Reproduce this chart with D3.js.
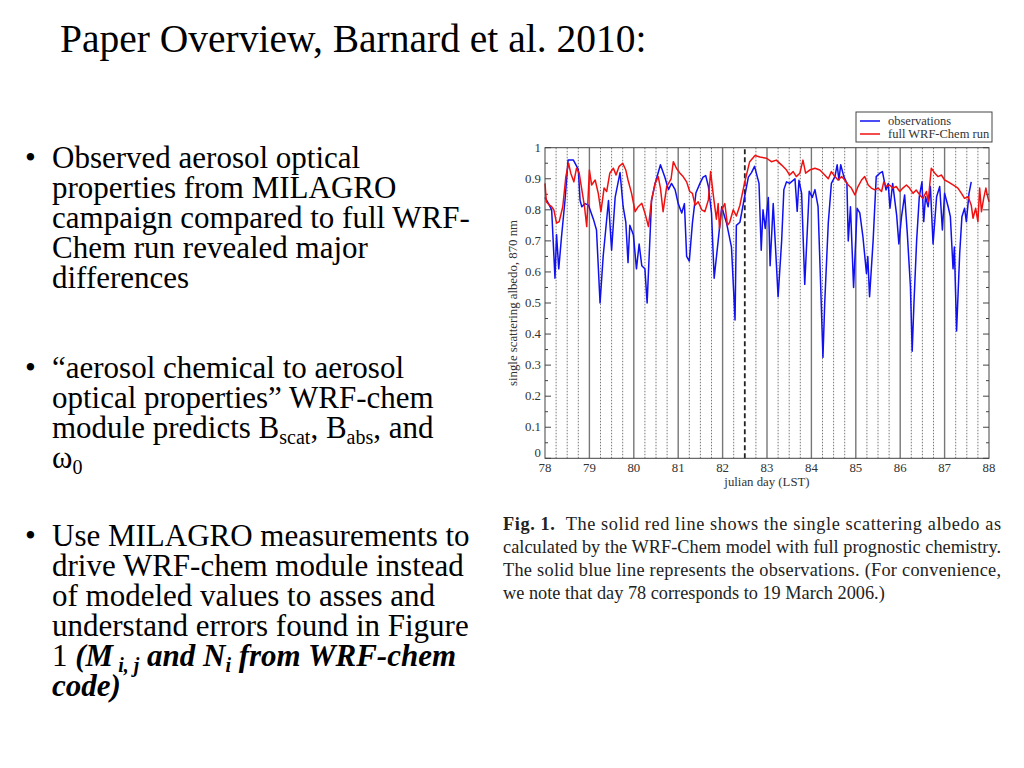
<!DOCTYPE html>
<html>
<head>
<meta charset="utf-8">
<script src="https://cdn.jsdelivr.net/npm/d3@7"></script>
<style>
  body { margin: 0; background: #fff; }
  svg { display: block; }
  .serif { font-family: "Liberation Serif", "Times New Roman", serif; }
</style>
</head>
<body>
<svg id="slide" width="1024" height="768"></svg>
<script>
// observed single scattering albedo (day, value)
let observations = [
  [78.00,0.84],[78.08,0.82],[78.15,0.80],[78.225,0.58],[78.26,0.72],[78.31,0.61],[78.37,0.71],[78.45,0.83],
  [78.52,0.96],[78.64,0.96],[78.75,0.93],[78.79,0.83],[78.83,0.81],[78.90,0.82],[78.98,0.815],[79.09,0.77],
  [79.16,0.735],[79.24,0.50],[79.31,0.65],[79.43,0.83],[79.50,0.67],[79.58,0.84],[79.69,0.92],[79.76,0.81],
  [79.82,0.76],[79.87,0.63],[79.91,0.75],[79.99,0.72],[80.06,0.61],[80.12,0.69],[80.18,0.62],[80.25,0.61],
  [80.30,0.50],[80.40,0.83],[80.48,0.885],[80.60,0.945],[80.70,0.905],[80.78,0.865],[80.85,0.885],[80.93,0.865],
  [81.00,0.82],[81.08,0.79],[81.14,0.82],[81.19,0.65],[81.25,0.635],[81.32,0.757],[81.40,0.855],[81.49,0.885],
  [81.56,0.905],[81.62,0.91],[81.68,0.875],[81.75,0.79],[81.81,0.58],[81.90,0.70],[81.98,0.81],[82.09,0.757],
  [82.20,0.68],[82.28,0.445],[82.31,0.75],[82.39,0.76],[82.48,0.83],[82.58,0.905],[82.65,0.92],[82.72,0.94],
  [82.82,0.885],[82.87,0.67],[82.91,0.80],[82.96,0.74],[83.03,0.84],[83.07,0.62],[83.14,0.82],[83.25,0.52],
  [83.33,0.70],[83.38,0.865],[83.44,0.89],[83.51,0.885],[83.63,0.90],[83.68,0.795],[83.72,0.895],[83.78,0.853],
  [83.85,0.56],[83.95,0.86],[84.02,0.84],[84.08,0.865],[84.15,0.81],[84.20,0.595],[84.26,0.325],[84.30,0.50],
  [84.38,0.757],[84.45,0.885],[84.53,0.907],[84.58,0.945],[84.62,0.896],[84.66,0.945],[84.73,0.907],[84.80,0.885],
  [84.83,0.70],[84.88,0.81],[84.95,0.55],[85.03,0.805],[85.09,0.79],[85.16,0.714],[85.24,0.595],[85.27,0.65],
  [85.31,0.52],[85.39,0.70],[85.46,0.907],[85.54,0.918],[85.60,0.923],[85.68,0.864],[85.73,0.885],[85.77,0.805],
  [85.83,0.885],[85.92,0.783],[85.97,0.69],[86.03,0.778],[86.10,0.848],[86.16,0.724],[86.23,0.553],[86.27,0.345],
  [86.31,0.50],[86.37,0.70],[86.43,0.842],[86.49,0.89],[86.53,0.762],[86.57,0.842],[86.63,0.81],[86.68,0.875],
  [86.74,0.69],[86.82,0.842],[86.89,0.875],[86.95,0.735],[87.00,0.853],[87.08,0.81],[87.13,0.778],[87.19,0.61],
  [87.22,0.68],[87.27,0.41],[87.34,0.66],[87.39,0.778],[87.45,0.805],[87.49,0.762],[87.55,0.853],[87.60,0.89]
];

// full WRF-Chem run (day, value)
let wrfChem = [
  [78.00,0.885],[78.03,0.826],[78.10,0.815],[78.15,0.81],[78.20,0.80],[78.26,0.757],[78.32,0.762],[78.40,0.81],
  [78.47,0.907],[78.53,0.95],[78.58,0.918],[78.65,0.89],[78.71,0.934],[78.77,0.918],[78.83,0.864],[78.89,0.81],
  [78.94,0.746],[79.00,0.928],[79.05,0.88],[79.13,0.896],[79.20,0.853],[79.26,0.794],[79.33,0.87],[79.39,0.859],
  [79.46,0.918],[79.54,0.934],[79.60,0.912],[79.67,0.94],[79.75,0.95],[79.82,0.928],[79.87,0.896],[79.95,0.853],
  [80.03,0.794],[80.10,0.81],[80.18,0.821],[80.25,0.79],[80.33,0.746],[80.40,0.832],[80.48,0.885],[80.55,0.907],
  [80.60,0.87],[80.66,0.794],[80.74,0.875],[80.84,0.90],[80.89,0.955],[80.96,0.934],[81.04,0.918],[81.11,0.907],
  [81.19,0.89],[81.26,0.859],[81.32,0.853],[81.38,0.815],[81.45,0.826],[81.53,0.80],[81.60,0.794],[81.68,0.832],
  [81.73,0.923],[81.79,0.848],[81.86,0.77],[81.90,0.82],[81.93,0.74],[81.98,0.80],[82.05,0.82],[82.11,0.75],
  [82.16,0.76],[82.24,0.80],[82.31,0.78],[82.39,0.815],[82.50,0.89],[82.61,0.955],[82.73,0.975],[82.84,0.97],
  [82.99,0.966],[83.10,0.955],[83.21,0.96],[83.33,0.944],[83.44,0.928],[83.51,0.912],[83.59,0.923],[83.66,0.907],
  [83.74,0.918],[83.81,0.96],[83.87,0.918],[83.96,0.928],[84.08,0.934],[84.19,0.928],[84.30,0.912],[84.38,0.90],
  [84.45,0.923],[84.53,0.907],[84.60,0.896],[84.68,0.907],[84.75,0.896],[84.83,0.88],[84.90,0.87],[84.98,0.848],
  [85.05,0.875],[85.13,0.896],[85.20,0.907],[85.28,0.88],[85.35,0.87],[85.43,0.864],[85.50,0.87],[85.58,0.859],
  [85.63,0.89],[85.69,0.875],[85.76,0.88],[85.84,0.87],[85.91,0.875],[85.99,0.859],[86.06,0.87],[86.14,0.88],
  [86.21,0.87],[86.29,0.853],[86.36,0.864],[86.44,0.848],[86.51,0.837],[86.59,0.859],[86.63,0.826],[86.70,0.934],
  [86.78,0.918],[86.85,0.907],[86.93,0.912],[87.00,0.896],[87.08,0.89],[87.19,0.88],[87.30,0.87],[87.38,0.853],
  [87.45,0.837],[87.53,0.842],[87.60,0.815],[87.64,0.773],[87.70,0.805],[87.75,0.762],[87.79,0.87],[87.83,0.794],
  [87.88,0.837],[87.93,0.87],[87.96,0.848],[88.00,0.826]
];

let xTicks = [78, 79, 80, 81, 82, 83, 84, 85, 86, 87, 88];
let yTicks = [0, 0.1, 0.2, 0.3, 0.4, 0.5, 0.6, 0.7, 0.8, 0.9, 1];
let legendLabels = ["observations", "full WRF-Chem run"];
let seriesColors = ["#1010f0", "#f01010"];

const svg = d3.select("#slide");
svg.append("rect").attr("width", 1024).attr("height", 768).attr("fill", "#fff");

// ---- slide text ----
svg.append("text").attr("class", "serif")
  .attr("x", 60).attr("y", 52).attr("font-size", 39.5).text("Paper Overview, Barnard et al. 2010:");

let bullets = [
  { y: 168, lines: ["Observed aerosol optical", "properties from MILAGRO", "campaign compared to full WRF-", "Chem run revealed major", "differences"] },
  { y: 378, lines: ["\u201caerosol chemical to aerosol", "optical properties\u201d WRF-chem", null, null] },
  { y: 546, lines: ["Use MILAGRO measurements to", "drive WRF-chem module instead", "of modeled values to asses and", "understand errors found in Figure", null, null] }
];
const lh = 30;
const fs = 31;
const sub = 20;
bullets.forEach(b => {
  svg.append("text").attr("class", "serif").attr("x", 25).attr("y", b.y).attr("font-size", fs).text("\u2022");
  b.lines.forEach((l, i) => {
    if (l) svg.append("text").attr("class", "serif").attr("x", 52).attr("y", b.y + i * lh).attr("font-size", fs).text(l);
  });
});
// lines with subscripts
let t = svg.append("text").attr("class", "serif").attr("x", 52).attr("y", 378 + 2 * lh).attr("font-size", fs);
t.append("tspan").text("module predicts B");
t.append("tspan").attr("font-size", sub).attr("dy", 6).text("scat");
t.append("tspan").attr("dy", -6).text(", B");
t.append("tspan").attr("font-size", sub).attr("dy", 6).text("abs");
t.append("tspan").attr("dy", -6).text(", and");
t = svg.append("text").attr("class", "serif").attr("x", 52).attr("y", 378 + 3 * lh).attr("font-size", fs);
t.append("tspan").text("\u03c9");
t.append("tspan").attr("font-size", sub).attr("dy", 6).text("0");

t = svg.append("text").attr("class", "serif").attr("x", 52).attr("y", 546 + 4 * lh).attr("font-size", fs);
t.append("tspan").text("1 ");
let bi = (txt) => t.append("tspan").attr("font-weight", "bold").attr("font-style", "italic").text(txt);
bi("(M");
bi(" i, j").attr("font-size", sub).attr("dy", 6);
bi(" and N").attr("dy", -6);
bi("i").attr("font-size", sub).attr("dy", 6);
bi(" from WRF-chem").attr("dy", -6);
svg.append("text").attr("class", "serif").attr("x", 52).attr("y", 546 + 5 * lh).attr("font-size", fs)
  .attr("font-weight", "bold").attr("font-style", "italic").text("code)");

// ---- caption ----
let caption = [
  "The solid red line shows the single scattering albedo as",
  "calculated by the WRF-Chem model with full prognostic chemistry.",
  "The solid blue line represents the observations.  (For convenience,",
  "we note that day 78 corresponds to 19 March 2006.)"
];
caption.forEach((c, i) => {
  let ct = svg.append("text").attr("class", "serif").attr("x", 503).attr("y", 530 + i * 23)
    .attr("font-size", 18.3).attr("fill", "#222");
  if (i === 0) {
    ct.append("tspan").attr("font-weight", "bold").text("Fig. 1.");
    ct.append("tspan").text("\u00a0\u00a0" + c);
  } else {
    ct.text(c);
  }
  if (i < 3) ct.attr("textLength", 498).attr("lengthAdjust", "spacing");
});

// ---- chart ----
const plot = { left: 545, right: 989, top: 147.7, bottom: 458.3 };
const x = d3.scaleLinear().domain([78, 88]).range([plot.left, plot.right]);
const y = d3.scaleLinear().domain([0, 1]).range([plot.bottom, plot.top]);
const g = svg.append("g");

// day / quarter-day guide lines
let quarters = d3.range(78.25, 88, 0.25).filter(d => Math.abs(d - Math.round(d)) > 0.01);
g.selectAll(".q").data(quarters.filter(d => Math.abs(d - 82.5) > 0.01)).enter().append("line")
  .attr("x1", d => x(d)).attr("x2", d => x(d)).attr("y1", y(0)).attr("y2", y(1))
  .attr("stroke", "#555").attr("stroke-width", 0.8).attr("stroke-dasharray", "1.5,1.5");
g.selectAll(".dl").data(xTicks.slice(1, -1)).enter().append("line")
  .attr("x1", d => x(d)).attr("x2", d => x(d)).attr("y1", y(0)).attr("y2", y(1))
  .attr("stroke", "#777").attr("stroke-width", 1.4);
g.append("line").attr("x1", x(82.5)).attr("x2", x(82.5)).attr("y1", y(0)).attr("y2", y(1))
  .attr("stroke", "#222").attr("stroke-width", 1.8).attr("stroke-dasharray", "5,3");

// y ticks (major + minor, inward, both sides)
let minor = d3.range(0.05, 1, 0.1);
[[yTicks, 6], [minor, 3]].forEach(([vals, len]) => {
  g.selectAll(null).data(vals).enter().append("line")
    .attr("x1", plot.left).attr("x2", plot.left + len).attr("y1", d => y(d)).attr("y2", d => y(d))
    .attr("stroke", "#444").attr("stroke-width", 1);
  g.selectAll(null).data(vals).enter().append("line")
    .attr("x1", plot.right).attr("x2", plot.right - len).attr("y1", d => y(d)).attr("y2", d => y(d))
    .attr("stroke", "#444").attr("stroke-width", 1);
});

// series
let line = d3.line().x(d => x(d[0])).y(d => y(d[1]));
[observations, wrfChem].forEach((s, i) => {
  g.append("path").datum(s).attr("d", line).attr("fill", "none")
    .attr("stroke", seriesColors[i]).attr("stroke-width", 1.5).attr("stroke-linejoin", "round");
});

// frame
g.append("rect").attr("x", plot.left).attr("y", plot.top)
  .attr("width", plot.right - plot.left).attr("height", plot.bottom - plot.top)
  .attr("fill", "none").attr("stroke", "#444").attr("stroke-width", 1);

// tick labels
const cf = 12.8;
g.selectAll(".yl").data(yTicks).enter().append("text").attr("class", "serif")
  .attr("x", plot.left - 4).attr("y", d => d === 0 ? y(d) - 1 : y(d) + 4)
  .attr("text-anchor", "end").attr("font-size", cf).attr("fill", "#333")
  .text(d => d3.format("~g")(d));
g.selectAll(".xl").data(xTicks).enter().append("text").attr("class", "serif")
  .attr("x", d => x(d)).attr("y", plot.bottom + 14)
  .attr("text-anchor", "middle").attr("font-size", cf).attr("fill", "#333").text(d => d);

g.append("text").attr("class", "serif").attr("x", (plot.left + plot.right) / 2).attr("y", plot.bottom + 28)
  .attr("text-anchor", "middle").attr("font-size", cf).attr("fill", "#333").text("julian day (LST)");
g.append("text").attr("class", "serif")
  .attr("transform", `translate(517,${(plot.top + plot.bottom) / 2}) rotate(-90)`)
  .attr("text-anchor", "middle").attr("font-size", cf).attr("fill", "#333")
  .text("single scattering albedo, 870 nm");

// legend
let lg = g.append("g").attr("transform", "translate(856,112)");
lg.append("rect").attr("width", 136).attr("height", 30).attr("fill", "#fff")
  .attr("stroke", "#444").attr("stroke-width", 1);
legendLabels.forEach((lbl, i) => {
  lg.append("line").attr("x1", 4).attr("x2", 24).attr("y1", 9 + i * 13).attr("y2", 9 + i * 13)
    .attr("stroke", seriesColors[i]).attr("stroke-width", 1.5);
  lg.append("text").attr("class", "serif").attr("x", 32).attr("y", 13 + i * 13)
    .attr("font-size", 12.5).attr("fill", "#333").text(lbl);
});
</script>
</body>
</html>
